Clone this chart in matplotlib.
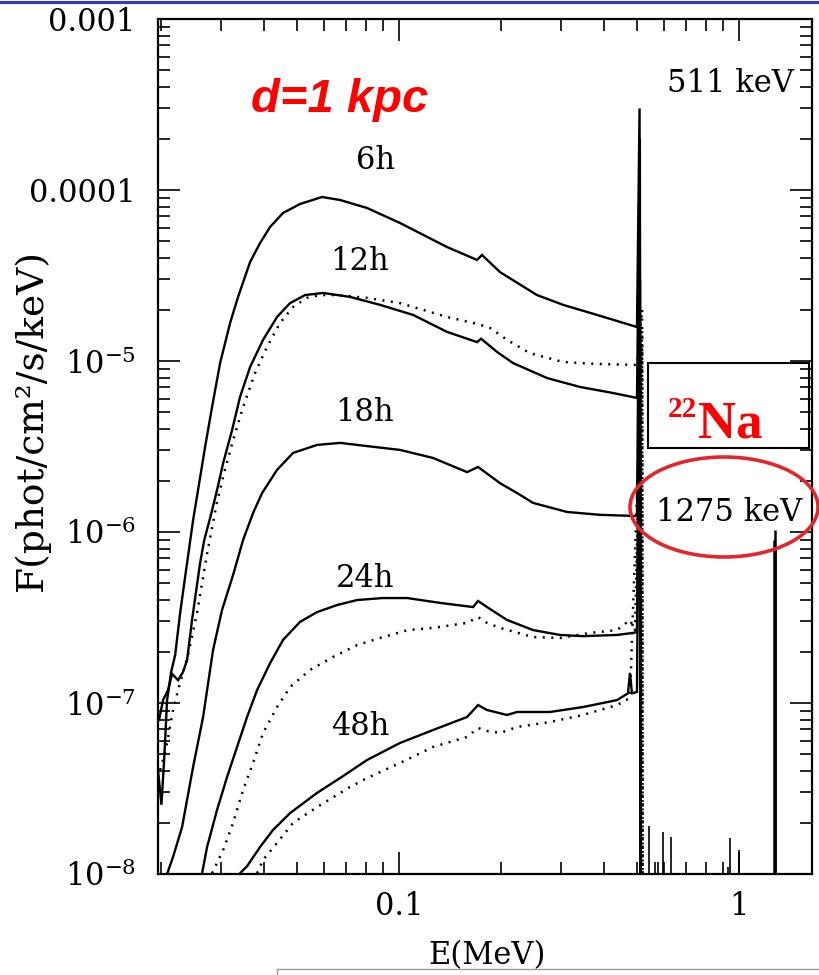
import numpy as np
import matplotlib
matplotlib.use('Agg')
import matplotlib.pyplot as plt
from matplotlib.patches import Ellipse, Rectangle
from matplotlib.lines import Line2D
from matplotlib.ticker import NullFormatter, LogLocator

plt.rcParams['font.family'] = ['DejaVu Serif']
plt.rcParams['mathtext.fontset'] = 'dejavuserif'

########################## spectra ##########################
# energy in MeV, flux in phot/cm2/s/keV

E_6h = [0.01954, 0.0200, 0.02037, 0.02078, 0.02136, 0.02195, 0.02270, 0.02348,
        0.02478, 0.02563, 0.02688, 0.02818, 0.02976, 0.03185, 0.03361, 0.03646,
        0.03902, 0.04175, 0.04559, 0.05113, 0.05935, 0.06708, 0.0805, 0.1007,
        0.1384, 0.1696, 0.1754, 0.1982, 0.2546, 0.3038, 0.3823, 0.5012, 0.510, 0.514]
F_6h = [4.06e-8, 2.54e-8, 4.64e-8, 1.04e-7, 1.52e-7, 1.91e-7, 3.36e-7, 5.46e-7,
        1.17e-6, 1.76e-6, 3.14e-6, 5.38e-6, 9.73e-6, 1.67e-5, 2.37e-5, 3.79e-5,
        4.90e-5, 6.08e-5, 7.34e-5, 8.28e-5, 9.10e-5, 8.74e-5, 7.85e-5, 6.41e-5,
        4.64e-5, 3.90e-5, 4.17e-5, 3.31e-5, 2.43e-5, 2.13e-5, 1.86e-5, 1.58e-5, 3.0e-4, 1e-9]

E_12h = [0.01968, 0.02022, 0.02092, 0.02150, 0.02239, 0.02316, 0.02379, 0.02461,
         0.02599, 0.02673, 0.02797, 0.02915, 0.03038, 0.03228, 0.03406, 0.03646,
         0.03981, 0.04378, 0.04779, 0.05291, 0.05977, 0.07177, 0.0879, 0.1100,
         0.1384, 0.1696, 0.1743, 0.1942, 0.2164, 0.2725, 0.3406, 0.4260, 0.5012, 0.511, 0.5145]
F_12h = [7.96e-8, 1.04e-7, 1.19e-7, 1.48e-7, 1.36e-7, 1.52e-7, 1.78e-7, 3.06e-7,
         6.59e-7, 8.98e-7, 1.26e-6, 1.76e-6, 2.53e-6, 3.95e-6, 6.16e-6, 9.22e-6,
         1.33e-5, 1.81e-5, 2.18e-5, 2.43e-5, 2.50e-5, 2.37e-5, 2.13e-5, 1.86e-5,
         1.48e-5, 1.29e-5, 1.35e-5, 1.13e-5, 9.73e-6, 7.95e-6, 7.05e-6, 6.50e-6, 6.08e-6, 2.0e-4, 1e-9]

E_12h_dot = [0.01982, 0.02022, 0.02078, 0.02164, 0.02239, 0.02395, 0.02545, 0.02725,
             0.02915, 0.03056, 0.03250, 0.03477, 0.03771, 0.04090, 0.04467, 0.04877,
             0.05362, 0.05855, 0.06571, 0.0805, 0.1007, 0.1384, 0.1696, 0.1852,
             0.2078, 0.2428, 0.3038, 0.3823, 0.5012, 0.519, 0.521]
F_12h_dot = [4.06e-8, 4.64e-8, 5.84e-8, 9.10e-8, 1.19e-7, 1.91e-7, 3.36e-7, 7.5e-7,
             1.50e-6, 2.21e-6, 3.45e-6, 5.38e-6, 8.51e-6, 1.21e-5, 1.67e-5, 2.07e-5,
             2.34e-5, 2.43e-5, 2.43e-5, 2.34e-5, 2.18e-5, 1.81e-5, 1.65e-5, 1.56e-5,
             1.33e-5, 1.11e-5, 9.87e-6, 9.61e-6, 9.48e-6, 2.0e-5, 1e-9]

E_18h = [0.02078, 0.02164, 0.02300, 0.02478, 0.02652, 0.02837, 0.03015, 0.0325,
         0.03477, 0.03720, 0.03955, 0.04378, 0.04877, 0.05738, 0.06708, 0.0805,
         0.1007, 0.1259, 0.1585, 0.1708, 0.1982, 0.2224, 0.2478, 0.3119, 0.3902,
         0.5012, 0.5105, 0.5145]
F_18h = [1.0e-8, 1.26e-8, 1.88e-8, 4.22e-8, 8.28e-8, 2.04e-7, 3.50e-7, 5.61e-7,
         8.98e-7, 1.29e-6, 1.69e-6, 2.31e-6, 2.90e-6, 3.23e-6, 3.32e-6, 3.18e-6,
         3.02e-6, 2.71e-6, 2.24e-6, 2.40e-6, 1.93e-6, 1.69e-6, 1.48e-6, 1.31e-6, 1.26e-6,
         1.24e-6, 1.0e-4, 1e-9]

E_24h = [0.02634, 0.02725, 0.02915, 0.03119, 0.03338, 0.03572, 0.03823, 0.04175,
         0.04559, 0.05113, 0.05738, 0.06571, 0.07524, 0.08973, 0.1056, 0.1320,
         0.1651, 0.1708, 0.1815, 0.2078, 0.2478, 0.2976, 0.3477, 0.4378, 0.4877,
         0.5012, 0.511, 0.515]
F_24h = [1.01e-8, 1.44e-8, 2.37e-8, 3.69e-8, 5.53e-8, 8.28e-8, 1.19e-7, 1.71e-7,
         2.34e-7, 2.98e-7, 3.40e-7, 3.74e-7, 4.00e-7, 4.11e-7, 4.11e-7, 3.85e-7,
         3.64e-7, 3.95e-7, 3.64e-7, 3.06e-7, 2.67e-7, 2.50e-7, 2.46e-7, 2.50e-7, 2.57e-7,
         2.60e-7, 6.0e-5, 1e-9]

E_24h_dot = [0.02818, 0.03038, 0.0325, 0.03477, 0.0372, 0.03981, 0.04378, 0.04779,
             0.05472, 0.06396, 0.07524, 0.08973, 0.1063, 0.1259, 0.1585, 0.1708,
             0.1815, 0.1982, 0.2478, 0.2976, 0.3646, 0.4378, 0.4779, 0.4945, 0.519, 0.521]
F_24h_dot = [1.01e-8, 1.38e-8, 1.99e-8, 3.10e-8, 4.46e-8, 6.68e-8, 9.47e-8, 1.24e-7,
             1.56e-7, 1.86e-7, 2.18e-7, 2.43e-7, 2.67e-7, 2.75e-7, 2.94e-7, 3.18e-7,
             2.94e-7, 2.75e-7, 2.43e-7, 2.40e-7, 2.57e-7, 2.67e-7, 3.06e-7, 2.67e-7, 1.5e-5, 1e-9]

E_48h = [0.03406, 0.03572, 0.03902, 0.04260, 0.04779, 0.05738, 0.06708, 0.0805,
         0.1007, 0.1259, 0.1585, 0.1708, 0.1815, 0.2078, 0.2224, 0.2780, 0.3477,
         0.4378, 0.4716, 0.4779, 0.4844, 0.5012, 0.5115, 0.515]
F_48h = [1.01e-8, 1.11e-8, 1.44e-8, 1.81e-8, 2.27e-8, 2.98e-8, 3.64e-8, 4.64e-8,
         5.84e-8, 6.95e-8, 8.28e-8, 9.73e-8, 9.10e-8, 8.51e-8, 8.86e-8, 8.86e-8, 9.47e-8,
         1.04e-7, 1.14e-7, 1.50e-7, 1.14e-7, 1.16e-7, 3.0e-5, 1e-9]

E_48h_dot = [0.03823, 0.03981, 0.04378, 0.04877, 0.05738, 0.07177, 0.0805, 0.1007,
             0.1259, 0.1585, 0.1708, 0.1815, 0.1982, 0.2224, 0.2780, 0.3477, 0.4378,
             0.4779, 0.519, 0.521]
F_48h_dot = [1.01e-8, 1.21e-8, 1.52e-8, 1.99e-8, 2.46e-8, 3.23e-8, 3.64e-8, 4.46e-8,
             5.53e-8, 6.33e-8, 7.14e-8, 6.86e-8, 6.68e-8, 7.24e-8, 7.74e-8, 8.51e-8, 9.73e-8,
             1.07e-7, 1.2e-5, 1e-9]

# weak lines between 511 and 1275 keV, and the 22Na line
small_E = [0.5437, 0.566, 0.578, 0.5976, 0.631, 0.93, 0.941, 1.0]
small_F = [1.91e-8, 1.17e-8, 1.17e-8, 1.76e-8, 1.65e-8, 1.1e-8, 1.62e-8, 1.38e-8]
na_E = [1.272, 1.275, 1.278]
na_F = [9.0e-7, 1.03e-6, 8.0e-7]

solid_curves = [(E_6h, F_6h), (E_12h, F_12h), (E_18h, F_18h), (E_24h, F_24h), (E_48h, F_48h)]
dotted_curves = [(E_12h_dot, F_12h_dot), (E_24h_dot, F_24h_dot), (E_48h_dot, F_48h_dot)]

time_labels = ['6h', '12h', '18h', '24h', '48h']
label_pos = [(0.332, 0.835), (0.309, 0.716), (0.316, 0.540), (0.316, 0.346), (0.309, 0.172)]

y_ticks = [1e-8, 1e-7, 1e-6, 1e-5, 1e-4, 1e-3]
y_tick_labels = [r'$10^{-8}$', r'$10^{-7}$', r'$10^{-6}$', r'$10^{-5}$', '0.0001', '0.001']
x_ticks = [0.1, 1]
x_tick_labels = ['0.1', '1']

################################## plot ########################################

fig = plt.figure(figsize=(8.19, 9.75), dpi=100)
ax = fig.add_axes([158/819, 1 - 874/975, 654/819, 855/975])
ax.set_xscale('log')
ax.set_yscale('log')

for E, F in solid_curves:
    ax.plot(E, F, color='black', lw=1.7, solid_joinstyle='miter')
for E, F in dotted_curves:
    ax.plot(E, F, color='black', lw=1.8, linestyle=(0, (0.8, 2.6)))

ax.vlines(small_E, 1e-9, small_F, color='black', lw=1.2)
ax.vlines(na_E, 1e-9, na_F, color='black', lw=1.8)

ax.set_xlim(0.01954, 1.64)
ax.set_ylim(1e-8, 1e-3)

ax.set_yticks(y_ticks, labels=y_tick_labels)
ax.set_xticks(x_ticks, labels=x_tick_labels)
ax.xaxis.set_minor_locator(LogLocator(base=10, subs=np.arange(2, 10)))
ax.yaxis.set_minor_locator(LogLocator(base=10, subs=np.arange(2, 10)))
ax.xaxis.set_minor_formatter(NullFormatter())
ax.yaxis.set_minor_formatter(NullFormatter())
ax.tick_params(which='both', direction='in', top=True, right=True, width=1.2)
ax.tick_params(which='major', length=16, labelsize=22)
ax.tick_params(which='minor', length=8.5)
ax.tick_params(axis='y', which='major', pad=16)
ax.tick_params(axis='x', which='major', pad=12)
for sp in ax.spines.values():
    sp.set_linewidth(1.6)

ax.set_ylabel('F(phot/cm²/s/keV)', fontsize=27)
ax.yaxis.set_label_coords(-0.165, 0.531)
ax.set_xlabel('E(MeV)', fontsize=22)
ax.xaxis.set_label_coords(0.503, -0.077)

for lab, (tx, ty) in zip(time_labels, label_pos):
    ax.text(tx, ty, lab, transform=ax.transAxes, fontsize=22, ha='center', va='center')

ax.text(0.876, 0.925, '511 keV', transform=ax.transAxes, fontsize=22, ha='center', va='center')
ax.text(0.873, 0.423, '1275 keV', transform=ax.transAxes, fontsize=22, ha='center', va='center')

ax.text(0.278, 0.905, 'd=1 kpc', transform=ax.transAxes, fontsize=34, color='#ff0000',
        family='Liberation Sans', weight='bold', style='italic', ha='center', va='center')

# 22Na box
ax.add_patch(Rectangle((0.749, 0.498), 0.246, 0.100, transform=ax.transAxes,
                       fill=False, ec='black', lw=1.5))
ax.text(0.8257, 0.511, 'Na', transform=ax.transAxes, fontsize=38, color='#ff0000',
        family='Liberation Serif', weight='bold', ha='left', va='baseline')
ax.text(0.824, 0.559, '22', transform=ax.transAxes, fontsize=21, color='#ff0000',
        family='Liberation Serif', weight='bold', ha='right', va='top')

# red ellipse around the 1275 keV label
fig.add_artist(Ellipse((724/819, 1 - 507/975), 188/819, 100/975, transform=fig.transFigure,
                       fill=False, ec='#e3262c', lw=2.6))

# slide decorations
fig.add_artist(Line2D([0, 1], [1 - 1.5/975, 1 - 1.5/975], transform=fig.transFigure,
                      color='#3636c8', lw=2.2))
fig.add_artist(Line2D([277/819, 1], [1 - 969/975, 1 - 969/975], transform=fig.transFigure,
                      color='#9a9a9a', lw=1.0))
fig.add_artist(Line2D([277/819, 277/819], [1 - 969/975, 0], transform=fig.transFigure,
                      color='#9a9a9a', lw=1.0))

fig.savefig('out.png', dpi=100)
